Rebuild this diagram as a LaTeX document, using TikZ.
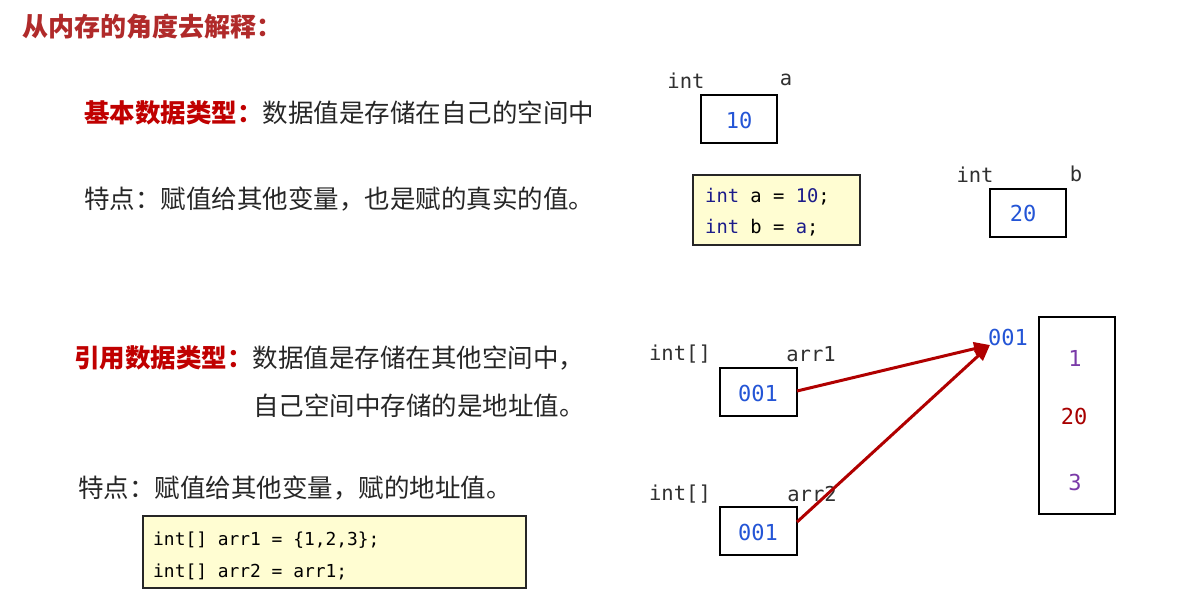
\documentclass[tikz,border=0pt]{standalone}
\usepackage{fontspec}
\usetikzlibrary{arrows.meta}
\newfontfamily\cjk{Noto Sans CJK SC}
\newfontfamily\mono{DejaVu Sans Mono}
\definecolor{titlered}{HTML}{B02A2A}
\definecolor{headred}{HTML}{C00000}
\definecolor{bodytxt}{HTML}{262626}
\definecolor{valblue}{HTML}{2455D6}
\definecolor{kwnavy}{HTML}{1C1C8A}
\definecolor{codebg}{HTML}{FFFDD2}
\definecolor{arrred}{HTML}{B00000}
\definecolor{elpurple}{HTML}{7A3AA8}
\definecolor{elred}{HTML}{A80000}
\definecolor{lblgray}{HTML}{303030}
\tikzset{
  txt/.style={anchor=west,inner sep=0pt,text=bodytxt,font=\cjk\fontsize{25.5}{30}\selectfont},
  lbl/.style={inner sep=0pt,text=lblgray,font=\mono\fontsize{20.5}{24}\selectfont},
  memcell/.style={draw=black,line width=2.6pt,inner sep=0pt},
  val/.style={inner sep=0pt,text=valblue,font=\mono\fontsize{22}{26}\selectfont},
  elem/.style={inner sep=0pt,font=\mono\fontsize{22}{26}\selectfont},
  codebox/.style={draw=black!85,line width=1.3pt,fill=codebg,inner sep=0pt},
  code/.style={anchor=west,inner sep=0pt,text=black,font=\mono\fontsize{18.8}{22}\selectfont},
  codeb/.style={anchor=west,inner sep=0pt,text=black,font=\mono\fontsize{17.9}{22}\selectfont},
  ptr/.style={draw=arrred,line width=3pt,-{Triangle[length=16pt,width=13pt]}},
}
\newcommand{\kw}[1]{\textcolor{kwnavy}{#1}}
\begin{document}
\begin{tikzpicture}[x=1pt,y=-1pt]
\useasboundingbox[fill=white] (0,0) rectangle (1188,602);
% title
\node[anchor=west,inner sep=0pt,text=titlered,font=\cjk\bfseries\fontsize{26}{30}\selectfont] (title) at (22,27) {从内存的角度去解释：};
% basic types
\node[txt] (basic) at (84,113) {\textcolor{headred}{\bfseries 基本数据类型：}数据值是存储在自己的空间中};
\node[txt] (basicfeat) at (84,199) {特点：赋值给其他变量，也是赋的真实的值。};
% reference types
\node[txt] (ref1) at (74,358) {\textcolor{headred}{\bfseries 引用数据类型：}数据值是存储在其他空间中，};
\node[txt] (ref2) at (253,406) {自己空间中存储的是地址值。};
\node[txt] (reffeat) at (78,488) {特点：赋值给其他变量，赋的地址值。};
% variable a
\node[lbl] (inta) at (686,81) {int};
\node[lbl] (namea) at (786,80) {a};
\node[memcell,minimum width=76pt,minimum height=48pt] (boxa) at (739,119) {};
\node[val] (vala) at (739,120) {10};
% code 1
\node[codebox,minimum width=167pt,minimum height=70pt] (code1) at (776.5,210) {};
\node[code] (c1l1) at (705,197) {\kw{int} a = \kw{10};};
\node[code] (c1l2) at (705,228) {\kw{int} b = \kw{a};};
% variable b
\node[lbl] (intb) at (975,175) {int};
\node[lbl] (nameb) at (1076,174) {b};
\node[memcell,minimum width=76pt,minimum height=48pt] (boxb) at (1028,213) {};
\node[val] (valb) at (1023,213) {20};
% arr1
\node[lbl] (intarr1) at (680,354) {int[]};
\node[lbl] (namearr1) at (811,354) {arr1};
\node[memcell,minimum width=77pt,minimum height=48pt] (boxarr1) at (758.5,392) {};
\node[val] (valarr1) at (758,393) {001};
% arr2
\node[lbl] (intarr2) at (680,494) {int[]};
\node[lbl] (namearr2) at (812,494) {arr2};
\node[memcell,minimum width=77pt,minimum height=48pt] (boxarr2) at (758.5,531) {};
\node[val] (valarr2) at (758,532) {001};
% code 2
\node[codebox,minimum width=383pt,minimum height=72pt] (code2) at (334.5,552) {};
\node[codeb] (c2l1) at (153,540) {int[] arr1 = \{1,2,3\};};
\node[codeb] (c2l2) at (153,572) {int[] arr2 = arr1;};
% array in memory
\node[memcell,minimum width=76pt,minimum height=197pt] (arr) at (1077,415.5) {};
\node[val] (addr) at (1008,337) {001};
\node[elem,text=elpurple] (e1) at (1075,358) {1};
\node[elem,text=elred] (e2) at (1074,416) {20};
\node[elem,text=elpurple] (e3) at (1075,482) {3};
% pointers
\coordinate (target) at (990,345);
\coordinate (from1) at (797,391);
\coordinate (from2) at (797,522);
\draw[ptr] (from1) -- (target);
\draw[ptr] (from2) -- (target);
\end{tikzpicture}
\end{document}
